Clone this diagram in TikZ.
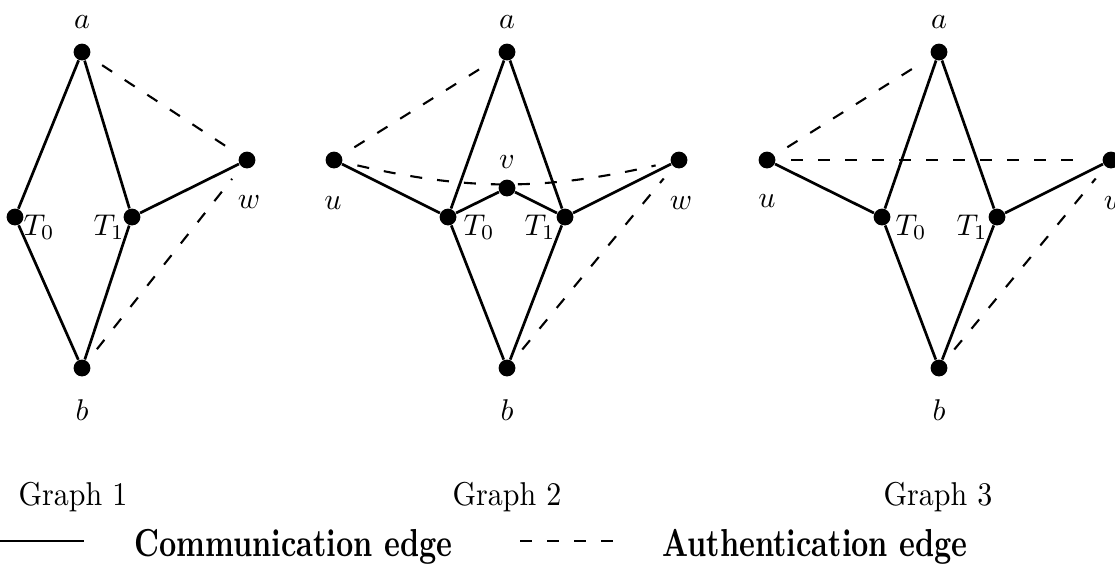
\documentclass[tikz,border=0pt]{standalone}
\usetikzlibrary{positioning}

\begin{document}
\begin{tikzpicture}[
    x=0.3333pt, y=-0.3333pt,
    gr-dot/.style={circle, fill=black, inner sep=0pt, minimum size=5.6pt},
    gr-label/.style={inner sep=0pt},
    gr-caption/.style={inner sep=0pt, anchor=base},
    gr-legend/.style={inner sep=0pt, anchor=base west, font=\bfseries},
    gr-comm/.style={line width=0.9pt},
    gr-auth/.style={line width=0.7pt, dash pattern=on 4pt off 5pt},
    gr-auth-edge/.style={gr-auth, shorten <=5pt, shorten >=5pt},
]
    \useasboundingbox (0,0) rectangle (1115,578);

    % ---- Graph 1 ----
    \node[gr-dot] (g1a)  at (82,52)   {};
    \node[gr-dot] (g1t0) at (15,217)  {};
    \node[gr-dot] (g1t1) at (132,217) {};
    \node[gr-dot] (g1b)  at (82,368)  {};
    \node[gr-dot] (g1w)  at (247,160) {};

    \node[gr-label] (g1la)  at (82,22)   {$a$};
    \node[gr-label] (g1lt0) at (39,227)  {$T_0$};
    \node[gr-label] (g1lt1) at (109,227) {$T_1$};
    \node[gr-label] (g1lb)  at (82,410)  {$b$};
    \node[gr-label] (g1lw)  at (249,202) {$w$};

    \draw[gr-comm] (g1a) -- (g1t0);
    \draw[gr-comm] (g1a) -- (g1t1);
    \draw[gr-comm] (g1t0) -- (g1b);
    \draw[gr-comm] (g1t1) -- (g1b);
    \draw[gr-comm] (g1t1) -- (g1w);
    \draw[gr-auth-edge] (g1a) -- (g1w);
    \draw[gr-auth-edge] (g1b) -- (g1w);

    % ---- Graph 2 ----
    \node[gr-dot] (g2u)  at (334,160) {};
    \node[gr-dot] (g2a)  at (507,52)  {};
    \node[gr-dot] (g2v)  at (507,188) {};
    \node[gr-dot] (g2t0) at (448,217) {};
    \node[gr-dot] (g2t1) at (565,217) {};
    \node[gr-dot] (g2b)  at (507,368) {};
    \node[gr-dot] (g2w)  at (679,160) {};

    \node[gr-label] (g2la)  at (507,22)  {$a$};
    \node[gr-label] (g2lv)  at (507,162) {$v$};
    \node[gr-label] (g2lu)  at (333,203) {$u$};
    \node[gr-label] (g2lw)  at (681,203) {$w$};
    \node[gr-label] (g2lt0) at (479,227) {$T_0$};
    \node[gr-label] (g2lt1) at (540,227) {$T_1$};
    \node[gr-label] (g2lb)  at (507,410) {$b$};

    \draw[gr-comm] (g2u) -- (g2t0);
    \draw[gr-comm] (g2t0) -- (g2a);
    \draw[gr-comm] (g2t1) -- (g2a);
    \draw[gr-comm] (g2t0) -- (g2v);
    \draw[gr-comm] (g2v) -- (g2t1);
    \draw[gr-comm] (g2t1) -- (g2w);
    \draw[gr-comm] (g2t0) -- (g2b);
    \draw[gr-comm] (g2t1) -- (g2b);
    \draw[gr-auth-edge] (g2u) -- (g2a);
    \draw[gr-auth-edge] (g2u) to[bend right=13] (g2w);
    \draw[gr-auth-edge] (g2b) -- (g2w);

    % ---- Graph 3 ----
    \node[gr-dot] (g3u)  at (767,160)  {};
    \node[gr-dot] (g3a)  at (939,52)   {};
    \node[gr-dot] (g3t0) at (882,217)  {};
    \node[gr-dot] (g3t1) at (997,217)  {};
    \node[gr-dot] (g3b)  at (939,368)  {};
    \node[gr-dot] (g3w)  at (1111,160) {};

    \node[gr-label] (g3la)  at (939,22)   {$a$};
    \node[gr-label] (g3lu)  at (767,201)  {$u$};
    \node[gr-label] (g3lt0) at (911,227)  {$T_0$};
    \node[gr-label] (g3lt1) at (972,227)  {$T_1$};
    \node[gr-label] (g3lb)  at (939,410)  {$b$};
    \node[gr-label] (g3lw)  at (1115,203) {$w$};

    \draw[gr-comm] (g3u) -- (g3t0);
    \draw[gr-comm] (g3t0) -- (g3a);
    \draw[gr-comm] (g3a) -- (g3t1);
    \draw[gr-comm] (g3t0) -- (g3b);
    \draw[gr-comm] (g3t1) -- (g3b);
    \draw[gr-comm] (g3t1) -- (g3w);
    \draw[gr-auth-edge] (g3u) -- (g3a);
    \draw[gr-auth-edge] (g3u) -- (g3w);
    \draw[gr-auth-edge] (g3b) -- (g3w);

    % ---- captions ----
    \node[gr-caption] (cap1) at (73,505)  {\scalebox{1}[1.1]{Graph 1}};
    \node[gr-caption] (cap2) at (507,505) {\scalebox{1}[1.1]{Graph 2}};
    \node[gr-caption] (cap3) at (938,505) {\scalebox{1}[1.1]{Graph 3}};

    % ---- legend ----
    \coordinate (lc1) at (0,541);
    \coordinate (lc2) at (84,541);
    \draw[gr-comm] (lc1) -- (lc2);
    \node[gr-legend] (lcomm) at (134,556) {\scalebox{1}[1.3]{Communication edge}};

    \coordinate (la1) at (520,541);
    \coordinate (la2) at (616,541);
    \draw[gr-auth] (la1) -- (la2);
    \node[gr-legend] (lauth) at (662,556) {\scalebox{1}[1.3]{Authentication edge}};
\end{tikzpicture}
\end{document}
